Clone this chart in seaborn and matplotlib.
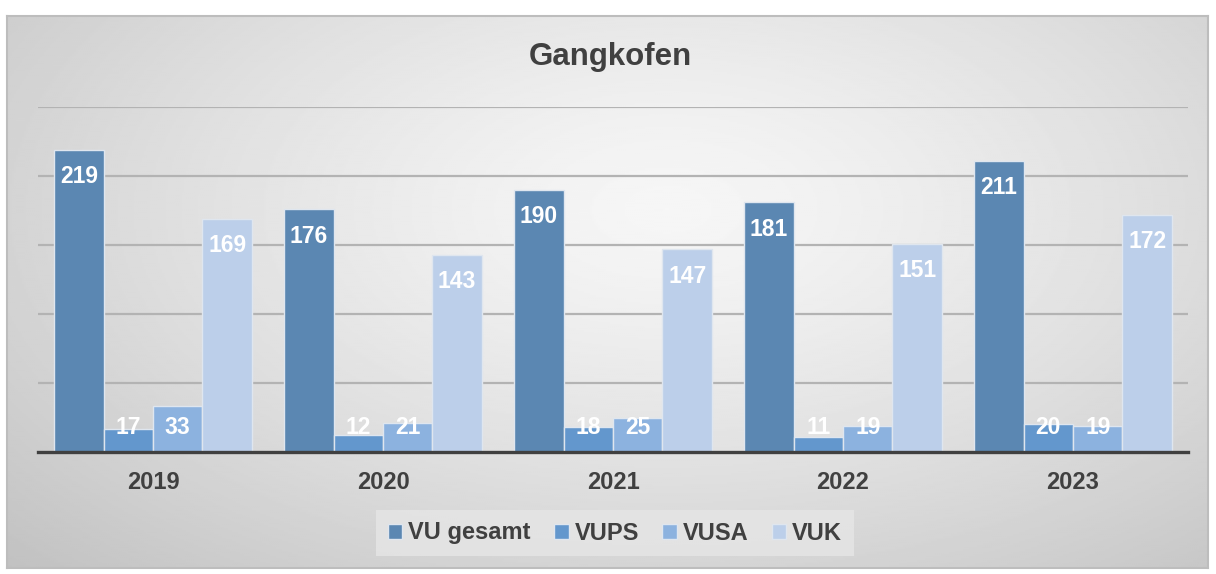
import numpy as np
import pandas as pd
import matplotlib.pyplot as plt
import seaborn as sns

# Daten
jahre = ["2019", "2020", "2021", "2022", "2023"]
serien = ["VU gesamt", "VUPS", "VUSA", "VUK"]
vu_gesamt = [219, 176, 190, 181, 211]
vups = [17, 12, 18, 11, 20]
vusa = [33, 21, 25, 19, 19]
vuk = [169, 143, 147, 151, 172]

farben = ["#5b87b2", "#6397cd", "#8cb2df", "#bccfea"]

df = pd.DataFrame({"Jahr": jahre * 4,
                   "Serie": np.repeat(serien, len(jahre)),
                   "Wert": vu_gesamt + vups + vusa + vuk})

sns.set_style("white")
plt.rcParams['font.family'] = ['Liberation Sans', 'DejaVu Sans']

fig = plt.figure(figsize=(12.16, 5.74), dpi=100)

# Hintergrund: radialer Grauverlauf im Diagrammrahmen
W, H = 1216, 574
x0, y0, x1, y1 = 7, 16, 1208, 568
bg = fig.add_axes([x0 / W, 1 - y1 / H, (x1 - x0) / W, (y1 - y0) / H])
yy, xx = np.mgrid[0:1:300j, 0:1:600j]
r = np.sqrt(((xx - 0.55) / 0.75) ** 2 + ((yy - 0.35) / 0.9) ** 2)
grau = 0.965 - 0.2 * np.clip(r, 0, 1.2) ** 1.3
bg.imshow(grau, cmap="gray", vmin=0, vmax=1, aspect="auto", extent=[0, 1, 1, 0])
bg.set_xticks([])
bg.set_yticks([])
for s in bg.spines.values():
    s.set_color("#bdbdbd")
    s.set_linewidth(1.5)

# Diagramm
ax = fig.add_axes([38 / W, 1 - 452 / H, (1188 - 38) / W, (452 - 107) / H])
ax.patch.set_alpha(0)
sns.barplot(data=df, x="Jahr", y="Wert", hue="Serie", palette=farben,
            width=0.86, edgecolor="#dfe6ef", linewidth=1.0, saturation=1,
            ax=ax, zorder=3)

ax.set_ylim(0, 250)
ax.set_yticks([50, 100, 150, 200, 250])
ax.yaxis.grid(True, color="#b3b3b3", linewidth=1.6)
ax.set_axisbelow(True)
ax.set_yticklabels([])
ax.tick_params(axis="y", length=0)
ax.tick_params(axis="x", length=0, pad=14, labelsize=17, labelcolor="#404040")
for lbl in ax.get_xticklabels():
    lbl.set_fontweight("bold")
ax.set_xlabel("")
ax.set_ylabel("")
for s in ["top", "left", "right"]:
    ax.spines[s].set_visible(False)
ax.spines["bottom"].set_color("#404040")
ax.spines["bottom"].set_linewidth(2.4)
ax.spines["bottom"].set_zorder(4)

# Datenbeschriftungen innen oben
for cont in ax.containers:
    for bar in cont:
        v = bar.get_height()
        y = max(v - 19.5, 17.5)
        ax.text(bar.get_x() + bar.get_width() / 2, y, f"{v:.0f}",
                ha="center", va="center", color="white",
                fontsize=16.5, fontweight="bold", zorder=5)

# Legende
handles, labels = ax.get_legend_handles_labels()
ax.legend_.remove()
leg = fig.legend(handles, labels, loc="center", bbox_to_anchor=(615 / W, 1 - 533 / H),
                 ncol=4, frameon=True, fontsize=17, handlelength=0.6, handleheight=0.6,
                 handletextpad=0.25, columnspacing=1.0, borderpad=0.5, fancybox=False)
leg.get_frame().set_facecolor("#e6e6e6")
leg.get_frame().set_edgecolor("none")
for t in leg.get_texts():
    t.set_fontweight("bold")
    t.set_color("#404040")

fig.text(610 / W, 1 - 57 / H, "Gangkofen", ha="center", va="center",
         fontsize=22.5, fontweight="bold", color="#404040")

fig.savefig("out.png", dpi=100)
